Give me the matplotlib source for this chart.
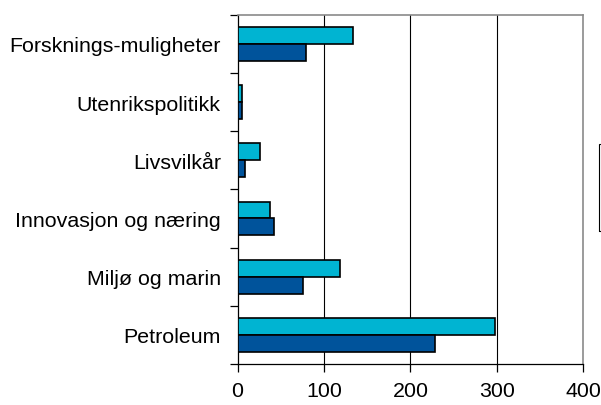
import matplotlib
matplotlib.use("Agg")
import matplotlib.pyplot as plt
from matplotlib.patches import Rectangle
import numpy as np

plt.rcParams['font.family'] = ['Liberation Sans', 'DejaVu Sans']

# Categories listed from top to bottom as shown on the chart
categories = ["Forsknings-muligheter", "Utenrikspolitikk", "Livsvilkår",
              "Innovasjon og næring", "Miljø og marin", "Petroleum"]
series_light = [134, 5, 26, 38, 118, 298]
series_dark = [79, 5, 9, 42, 76, 229]
x_ticks = [0, 100, 200, 300, 400]

color_light = "#00B4D2"
color_dark = "#00539B"

fig = plt.figure(figsize=(6.01, 4.06), dpi=100)
ax = fig.add_axes([0.3952, 0.101, 0.5754, 0.8603])

n = len(categories)
pos = np.arange(n)[::-1]  # first category at the top
h = 0.29

ax.barh(pos + h / 2, series_light, height=h, color=color_light,
        edgecolor="black", linewidth=1.2, zorder=3)
ax.barh(pos - h / 2, series_dark, height=h, color=color_dark,
        edgecolor="black", linewidth=1.2, zorder=3)

ax.set_xlim(0, 400)
ax.set_ylim(-0.5, n - 0.5)

ax.set_xticks(x_ticks)
ax.set_xticklabels([str(t) for t in x_ticks], fontsize=15.4)
ax.tick_params(axis="x", direction="out", length=6, width=0.9, pad=6)

ax.set_yticks(pos)
ax.set_yticklabels(categories, fontsize=15.4)
ax.tick_params(axis="y", which="major", length=0, pad=12)
ax.set_yticks(np.arange(-0.5, n, 1.0), minor=True)
ax.tick_params(axis="y", which="minor", direction="out", length=6, width=0.9)

# vertical gridlines
for t in x_ticks[1:-1]:
    ax.axvline(t, color="black", linewidth=0.8, zorder=1)

ax.spines["left"].set_color("black")
ax.spines["bottom"].set_color("black")
ax.spines["left"].set_linewidth(0.9)
ax.spines["bottom"].set_linewidth(0.9)
for s in ("top", "right"):
    ax.spines[s].set_color("#8a8a8a")
    ax.spines[s].set_linewidth(1.2)

# legend frame running off the right edge
fig.patches.append(Rectangle((599 / 601, 1 - 232 / 406), 0.05, 87 / 406,
                             transform=fig.transFigure, fill=False,
                             edgecolor="black", linewidth=0.8))

fig.savefig("out.png", dpi=100)
